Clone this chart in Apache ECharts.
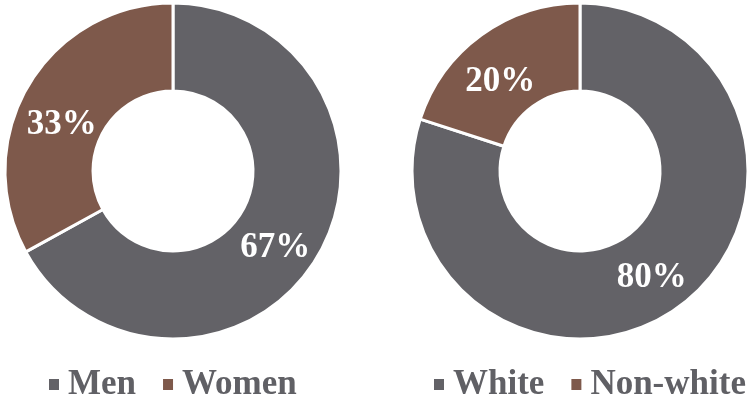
<!DOCTYPE html>
<html>
<head>
<meta charset="utf-8">
<script src="https://cdn.jsdelivr.net/npm/echarts@6/dist/echarts.min.js"></script>
<style>
html,body{margin:0;padding:0;background:#fff;}
#chart{width:753px;height:403px;}
</style>
</head>
<body>
<div id="chart"></div>
<script>
var genderCategories = ['Men', 'Women'];
var genderValues = [67, 33];
var raceCategories = ['White', 'Non-white'];
var raceValues = [80, 20];
var sliceColors = ['#636267', '#7e594b'];

var FONT = '"Liberation Serif", "Times New Roman", serif';

function toData(cats, vals, offsets) {
  return cats.map(function (c, i) {
    return {
      name: c,
      value: vals[i],
      itemStyle: { color: sliceColors[i] },
      label: { offset: offsets[i] }
    };
  });
}

function pieSeries(cats, vals, cx, offsets) {
  return {
    type: 'pie',
    center: [cx, 171],
    radius: [80, 168],
    startAngle: 90,
    clockwise: true,
    avoidLabelOverlap: false,
    itemStyle: { borderColor: '#ffffff', borderWidth: 3 },
    label: {
      show: true,
      position: 'inside',
      formatter: '{c}%',
      color: '#ffffff',
      fontFamily: FONT,
      fontWeight: 'bold',
      fontSize: 35
    },
    labelLine: { show: false },
    emphasis: { disabled: true },
    silent: true,
    data: toData(cats, vals, offsets)
  };
}

var legendBase = {
  top: 362,
  orient: 'horizontal',
  icon: 'rect',
  itemWidth: 12,
  itemHeight: 13,
  itemGap: 25,
  textStyle: {
    color: '#606065',
    fontFamily: FONT,
    fontWeight: 'bold',
    fontSize: 35,
    padding: [0, 0, 0, 3]
  }
};

var chart = echarts.init(document.getElementById('chart'), null, { renderer: 'canvas' });
chart.setOption({
  backgroundColor: '#ffffff',
  animation: false,
  legend: [
    Object.assign({}, legendBase, { left: 42, data: genderCategories }),
    Object.assign({}, legendBase, { left: 427, data: raceCategories })
  ],
  series: [
    pieSeries(genderCategories, genderValues, 173, [[-7, 12], [-2, 19]]),
    pieSeries(raceCategories, raceValues, 580, [[-3, 4], [-5, 14]])
  ]
});
</script>
</body>
</html>
